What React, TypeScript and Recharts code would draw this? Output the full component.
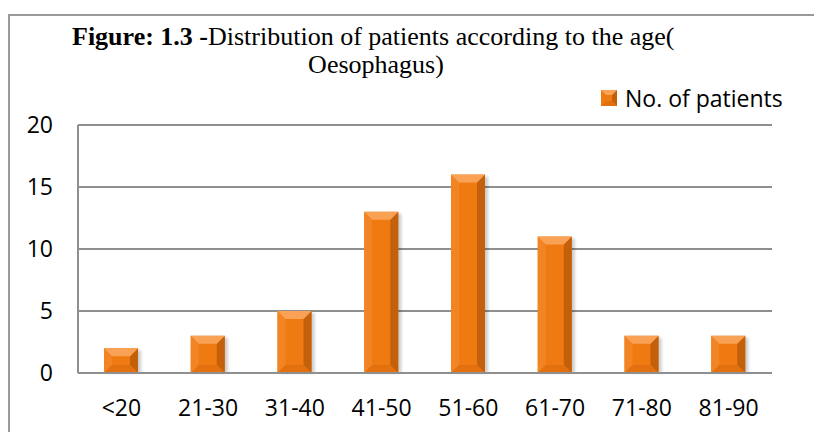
import React from "react";
import { BarChart, Bar, XAxis, YAxis, CartesianGrid, Legend } from "recharts";

const categories = ["<20", "21-30", "31-40", "41-50", "51-60", "61-70", "71-80", "81-90"];
const patients = [2, 3, 5, 13, 16, 11, 3, 3];
const yTicks = [0, 5, 10, 15, 20];
const seriesName = "No. of patients";

const data = categories.map((c, i) => ({ age: c, value: patients[i] }));

const MAIN = "#F07A12";
const TOP = "#F9A256";
const LEFT = "#F28424";
const RIGHT = "#C2600C";
const BOTTOM = "#E2700F";

const BevelBar = (props: any) => {
  const { x, y, width, height } = props;
  if (!width || !height || height <= 0) return null;
  const b = Math.min(8, width / 2, height / 2);
  const x2 = x + width;
  const y2 = y + height;
  return (
    <g>
      <rect x={x + 3} y={y + 2} width={width} height={height - 2} fill="rgba(0,0,0,0.2)" filter="url(#barShadow)" />
      <rect x={x} y={y} width={width} height={height} fill={MAIN} />
      <polygon points={`${x},${y} ${x + b},${y + b} ${x + b},${y2 - b} ${x},${y2}`} fill={LEFT} />
      <polygon points={`${x2},${y} ${x2},${y2} ${x2 - b},${y2 - b} ${x2 - b},${y + b}`} fill={RIGHT} />
      <polygon points={`${x},${y2} ${x2},${y2} ${x2 - b},${y2 - b} ${x + b},${y2 - b}`} fill={BOTTOM} />
      <polygon points={`${x},${y} ${x2},${y} ${x2 - b},${y + b} ${x + b},${y + b}`} fill={TOP} />
    </g>
  );
};

const LegendContent = () => (
  <div style={{ display: "flex", alignItems: "center", fontFamily: "'Open Sans', sans-serif", fontSize: 23, color: "#000", whiteSpace: "nowrap" }}>
    <svg width={16} height={16} style={{ marginRight: 8 }}>
      <rect x={0} y={0} width={16} height={16} fill={MAIN} />
      <polygon points="16,0 16,16 11,11 11,5" fill={RIGHT} />
      <polygon points="0,16 16,16 11,11 5,11" fill={BOTTOM} />
      <polygon points="0,0 16,0 11,5 5,5" fill={TOP} />
    </svg>
    <span>{seriesName}</span>
  </div>
);

export default function App() {
  return (
    <div style={{ position: "absolute", left: 0, top: 0, width: 814, height: 432, overflow: "hidden", background: "#fff" }}>
      <div style={{ position: "absolute", left: 8, top: 14, width: 1000, height: 1000, borderTop: "2px solid #9a9a9a", borderLeft: "2px solid #9a9a9a", boxSizing: "border-box" }} />
      <svg width={814} height={110} style={{ position: "absolute", left: 0, top: 0 }}>
        <text x={72} y={45} fontFamily="'Liberation Serif', 'Times New Roman', serif" fontSize={26} fill="#000">
          <tspan fontWeight="bold">Figure: 1.3 -</tspan>
          <tspan>Distribution of patients according to the age(</tspan>
        </text>
        <text x={376} y={73} textAnchor="middle" fontFamily="'Liberation Serif', 'Times New Roman', serif" fontSize={26} fill="#000">
          Oesophagus)
        </text>
      </svg>
      <div style={{ position: "absolute", left: 0, top: 0 }}>
        <BarChart width={814} height={432} data={data} margin={{ top: 125, right: 42, bottom: 29, left: 0 }} barSize={34}>
          <defs>
            <filter id="barShadow" x="-20%" y="-20%" width="140%" height="140%">
              <feGaussianBlur stdDeviation="1.5" />
            </filter>
          </defs>
          <CartesianGrid vertical={false} stroke="#8f8f8f" strokeWidth={2} />
          <XAxis
            dataKey="age"
            height={30}
            tickLine={false}
            tickSize={0}
            tickMargin={27}
            axisLine={{ stroke: "#8f8f8f", strokeWidth: 2 }}
            tick={{ fill: "#000", fontSize: 23, fontFamily: "'Open Sans', sans-serif" }}
            interval={0}
          />
          <YAxis
            width={78}
            domain={[0, 20]}
            ticks={yTicks}
            tickLine={false}
            tickSize={0}
            tickMargin={25}
            axisLine={{ stroke: "#8f8f8f", strokeWidth: 2 }}
            tick={{ fill: "#000", fontSize: 23, fontFamily: "'Open Sans', sans-serif" }}
          />
          <Legend
            layout="horizontal"
            verticalAlign="middle"
            align="center"
            content={<LegendContent />}
            wrapperStyle={{ position: "absolute", left: 601, top: 82, width: "auto" }}
          />
          <Bar dataKey="value" name={seriesName} shape={<BevelBar />} isAnimationActive={false} />
        </BarChart>
      </div>
    </div>
  );
}
